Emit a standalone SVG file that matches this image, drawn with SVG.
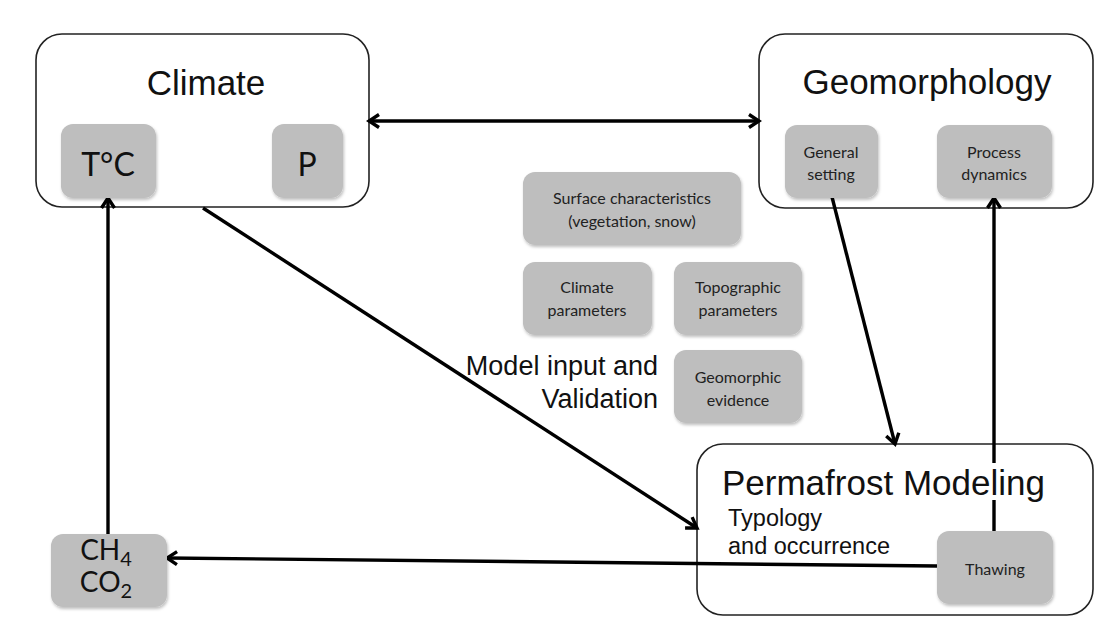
<svg xmlns="http://www.w3.org/2000/svg" width="1101" height="617" viewBox="0 0 1101 617">
<style>
.big{fill:#fff;stroke:#222;stroke-width:1.6}
.gray{fill:#bebebe;filter:url(#sh)}
.title{font-family:"Liberation Sans",Arial,sans-serif;font-size:35px;fill:#111}
.lbl{font-family:Lato,"Open Sans",sans-serif;font-size:16px;fill:#222;text-anchor:middle}
.sym{font-family:Lato,"Open Sans",sans-serif;font-size:32px;fill:#111;text-anchor:middle}
.mid{font-family:"Liberation Sans",Arial,sans-serif;font-size:27px;fill:#111;text-anchor:end}
.sub{font-family:"Liberation Sans",Arial,sans-serif;font-size:23.5px;fill:#111}
.con{fill:none;stroke:#000;stroke-width:3.4}
</style>
<defs>
<filter id="sh" x="-20%" y="-20%" width="140%" height="150%">
<feDropShadow dx="1" dy="2" stdDeviation="1.5" flood-color="#000" flood-opacity="0.25"/>
</filter>
<marker id="ah" viewBox="0 0 16 16" markerWidth="16" markerHeight="16" refX="13" refY="8" orient="auto-start-reverse" markerUnits="userSpaceOnUse">
<path d="M3,1.5 L13,8 L3,14.5" fill="none" stroke="#000" stroke-width="3.4" stroke-linejoin="miter"/>
</marker>
</defs>
<rect width="1101" height="617" fill="#fff"/>
<g id="climate">
<rect class="big" x="36" y="34" width="333" height="173" rx="26"/>
<text class="title" x="206" y="95" text-anchor="middle">Climate</text>
</g>
<g id="geomorphology">
<rect class="big" x="759" y="34" width="334" height="174" rx="26"/>
<text class="title" x="927" y="94" text-anchor="middle">Geomorphology</text>
</g>
<g id="permafrost">
<rect class="big" x="697" y="444" width="396" height="171" rx="26"/>
<text class="title" x="722" y="495">Permafrost Modeling</text>
<text class="sub" x="728" y="526">Typology</text>
<text class="sub" x="728" y="554">and occurrence</text>
</g>
<g id="connectors">
<path class="con" d="M369,121 H759" marker-start="url(#ah)" marker-end="url(#ah)"/>
<path class="con" d="M108,534 V198" marker-end="url(#ah)"/>
<path class="con" d="M203,208 L697,528" marker-end="url(#ah)"/>
<path class="con" d="M832,197 L895,444" marker-end="url(#ah)"/>
<path class="con" d="M994,531 V500 M994,463 V198" marker-end="url(#ah)"/>
<path class="con" d="M937,566 L167,558" marker-end="url(#ah)"/>
</g>
<g id="tc">
<rect class="gray" x="61" y="124" width="95" height="74" rx="12"/>
<text class="sym" x="108" y="176">T°C</text>
</g>
<g id="p">
<rect class="gray" x="272" y="124" width="71" height="74" rx="12"/>
<text class="sym" x="307" y="176">P</text>
</g>
<g id="general-setting">
<rect class="gray" x="785" y="125" width="93" height="73" rx="12"/>
<text class="lbl" x="831" y="158">General</text>
<text class="lbl" x="831" y="180">setting</text>
</g>
<g id="process-dynamics">
<rect class="gray" x="937" y="125" width="115" height="73" rx="12"/>
<text class="lbl" x="994" y="158">Process</text>
<text class="lbl" x="994" y="180">dynamics</text>
</g>
<g id="surface">
<rect class="gray" x="523" y="172" width="218" height="73" rx="12"/>
<text class="lbl" x="632" y="204">Surface characteristics</text>
<text class="lbl" x="632" y="227">(vegetation, snow)</text>
</g>
<g id="climate-parameters">
<rect class="gray" x="523" y="262" width="129" height="73" rx="12"/>
<text class="lbl" x="587" y="293">Climate</text>
<text class="lbl" x="587" y="316">parameters</text>
</g>
<g id="topographic-parameters">
<rect class="gray" x="674" y="262" width="128" height="73" rx="12"/>
<text class="lbl" x="738" y="293">Topographic</text>
<text class="lbl" x="738" y="316">parameters</text>
</g>
<g id="geomorphic-evidence">
<rect class="gray" x="674" y="350" width="128" height="73" rx="12"/>
<text class="lbl" x="738" y="383">Geomorphic</text>
<text class="lbl" x="738" y="406">evidence</text>
</g>
<g id="model-input-label">
<text class="mid" x="658" y="375">Model input and</text>
<text class="mid" x="658" y="408">Validation</text>
</g>
<g id="thawing">
<rect class="gray" x="937" y="531" width="116" height="73" rx="12"/>
<text class="lbl" x="995" y="575">Thawing</text>
</g>
<g id="gases">
<rect class="gray" x="51" y="534" width="116" height="73" rx="12"/>
<text class="sym" style="font-size:28px" x="106" y="560">CH<tspan font-size="20" dy="6">4</tspan></text>
<text class="sym" style="font-size:28px" x="106" y="592">CO<tspan font-size="20" dy="6">2</tspan></text>
</g>
</svg>
